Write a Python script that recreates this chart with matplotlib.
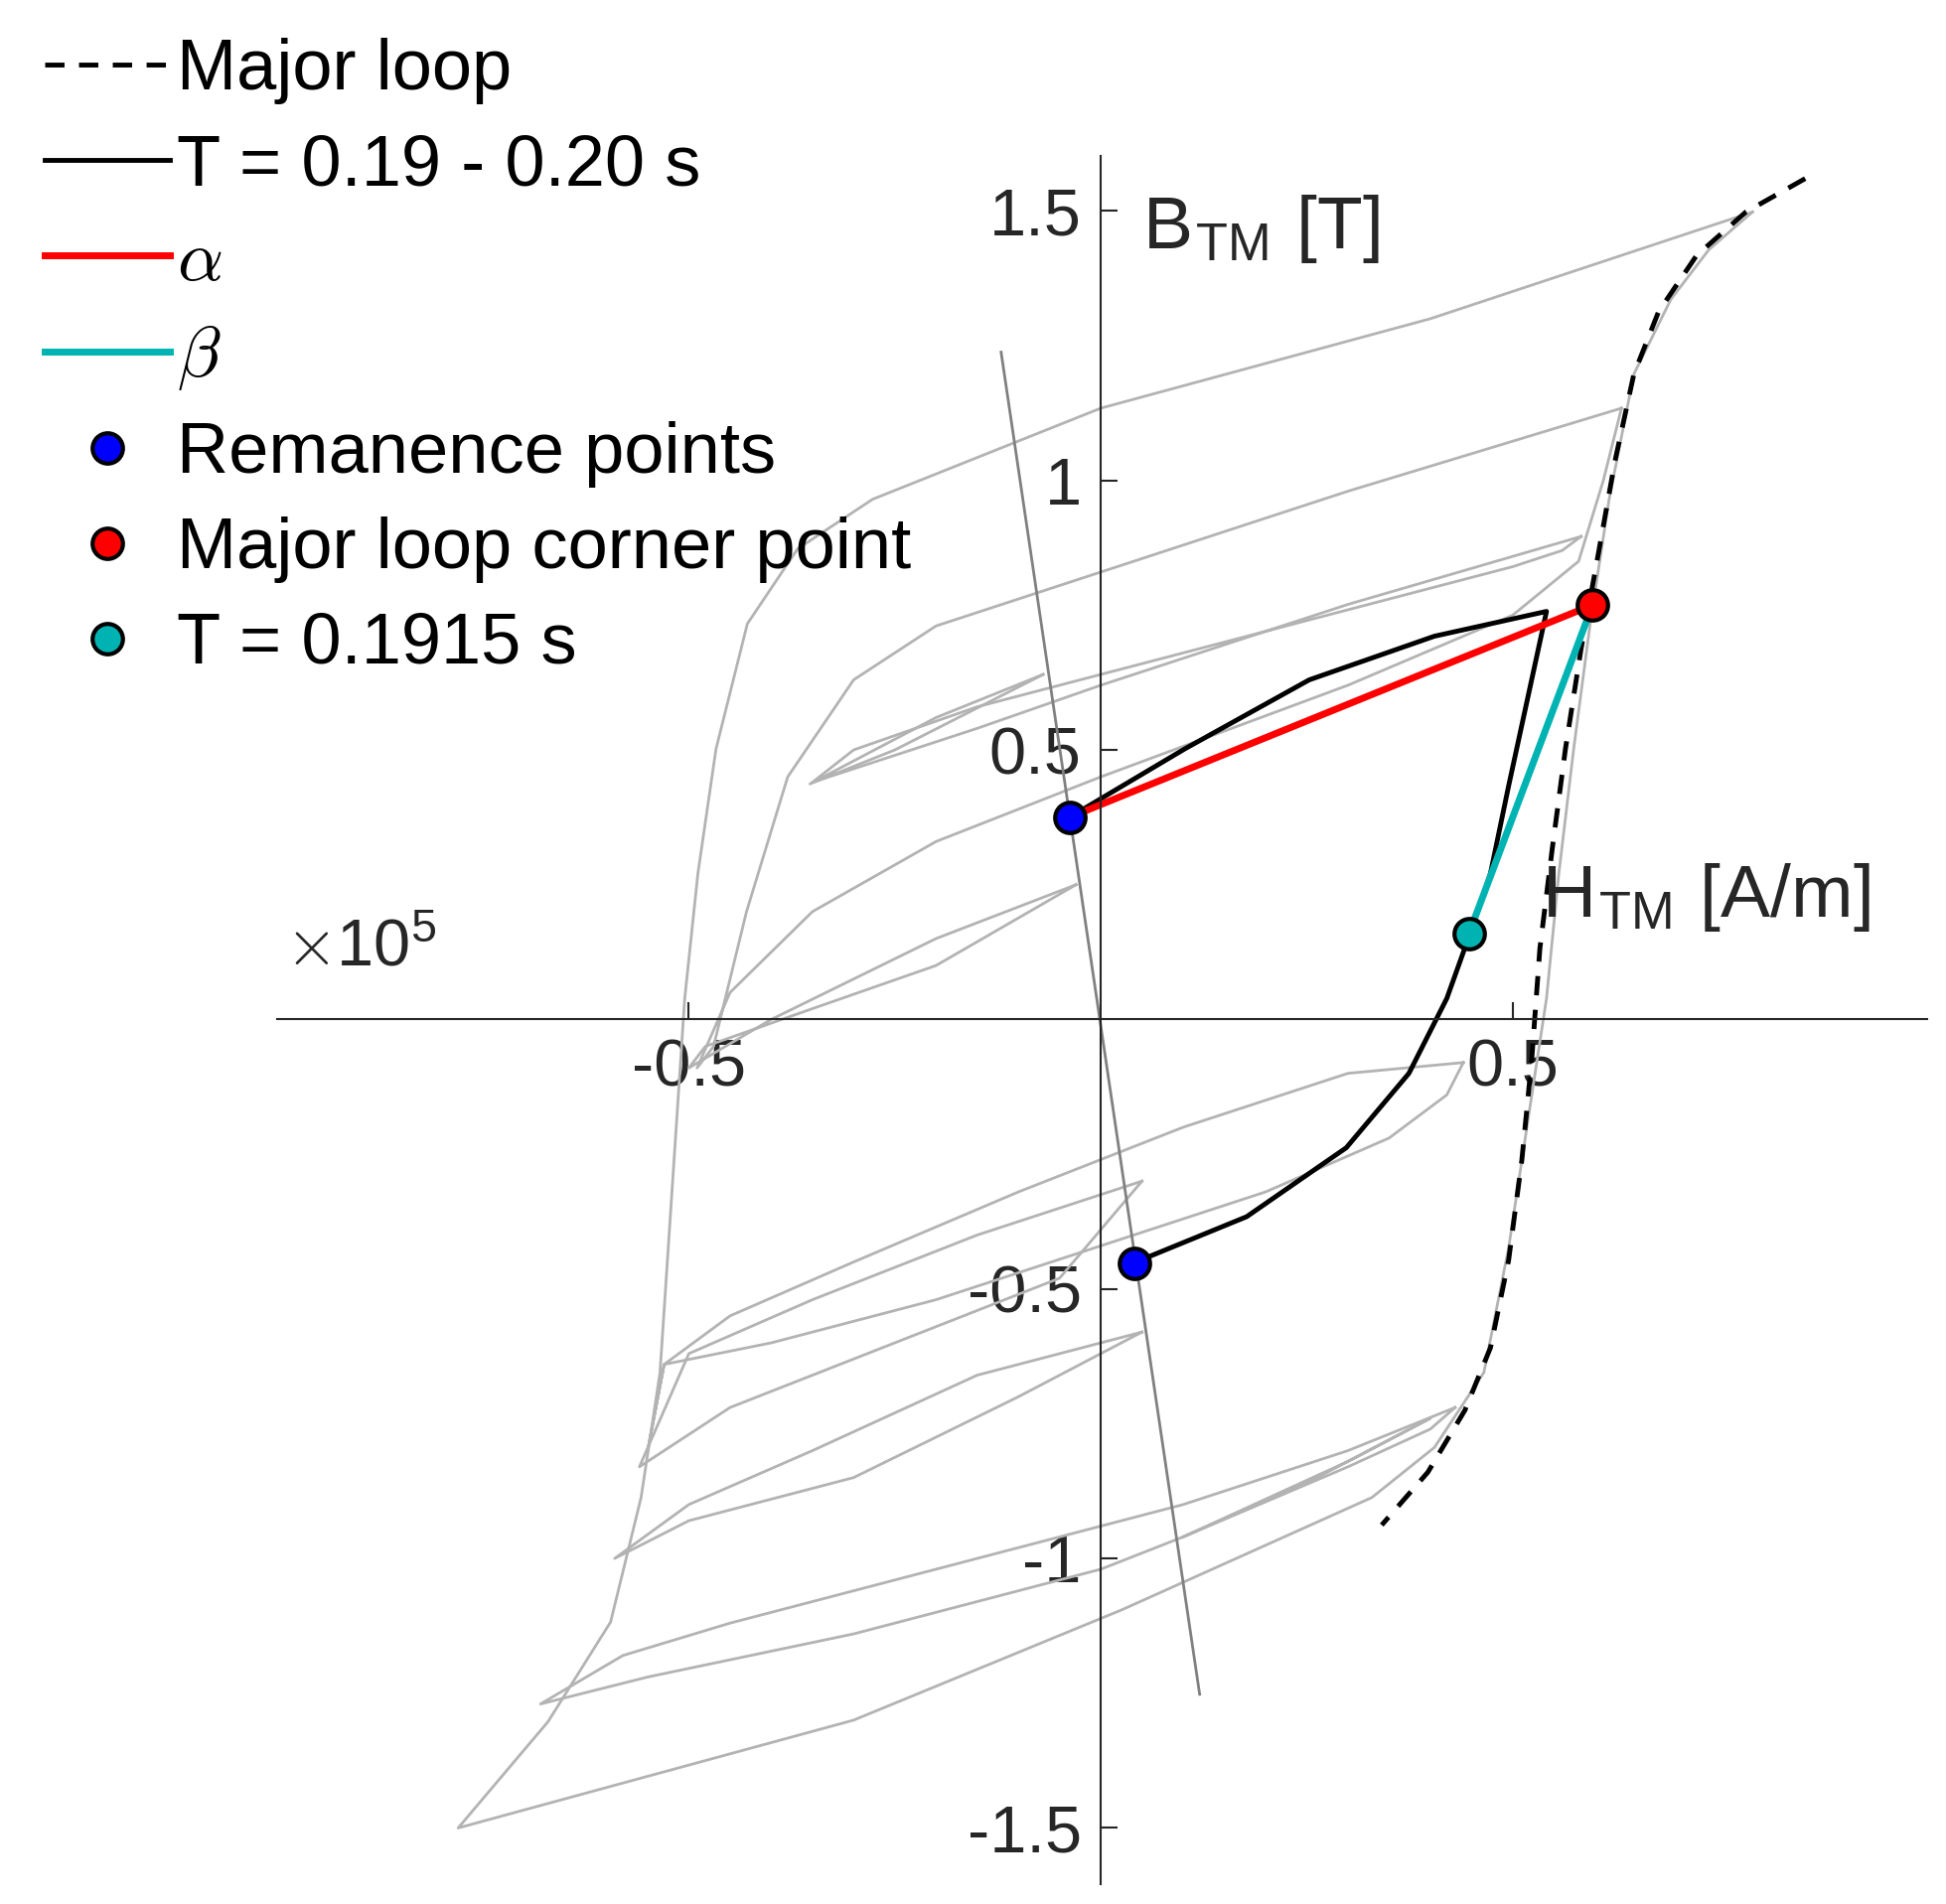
import matplotlib
matplotlib.use("Agg")
import matplotlib.pyplot as plt
from matplotlib.lines import Line2D
import numpy as np

plt.rcParams['font.family'] = ['Liberation Sans', 'DejaVu Sans']
plt.rcParams['mathtext.fontset'] = 'cm'

# Major loop (H in 1e5 A/m, B in T)
major_H = [.855,.783,.723,.677,.647,.624,.605,.583,.564,.548,.533,.523,.511,.495,.473,.442,.397,.341]
major_B = [1.56,1.498,1.417,1.313,1.197,1.035,.873,.688,.502,.317,.132,-.076,-.262,-.447,-.609,-.725,-.840,-.938]

# gray minor/major loops measured (H, B)
loops = [
 ([.791,.40,0,-.277,-.368,-.429,-.467,-.489,-.505,-.520,-.535,-.558,-.595,-.671,-.780,-.30,.026,.329,.405,.465,.495,.518,.541,.556,.574,.594,.617,.647,.692,.738,.791],
  [1.498,1.30,1.134,.965,.873,.734,.502,.271,.039,-.308,-.655,-.887,-1.118,-1.303,-1.5,-1.30,-1.095,-.887,-.794,-.655,-.424,-.192,.039,.271,.502,.734,.965,1.197,1.336,1.428,1.498]),
 ([.632,.30,0,-.20,-.30,-.38,-.43,-.47,-.49,-.45,-.35,-.20,0,.30,.50,.58,.61,.632],
  [1.134,.98,.83,.73,.63,.45,.20,-.05,-.09,.05,.20,.33,.45,.62,.75,.85,1.0,1.134]),
 ([.583,.30,0,-.15,-.35,-.30,-.15,0,.30,.50,.56,.583],
  [.896,.77,.62,.54,.44,.50,.58,.64,.76,.84,.87,.896]),
 ([-.07,-.20,-.353,-.25,-.07],[.64,.56,.437,.50,.64]),
 ([-.03,-.20,-.40,-.50,-.48,-.35,-.20,-.03],[.25,.15,.0,-.09,-.05,.02,.10,.25]),
 ([.44,.30,.10,-.10,-.30,-.45,-.53,-.55,-.53,-.40,-.20,0,.20,.35,.42,.44],
  [-.08,-.10,-.20,-.32,-.45,-.55,-.64,-.80,-.64,-.60,-.52,-.42,-.32,-.22,-.14,-.08]),
 ([.05,-.15,-.35,-.50,-.56,-.45,-.25,-.05,.05],[-.30,-.40,-.52,-.62,-.83,-.72,-.60,-.48,-.30]),
 ([.05,-.15,-.35,-.50,-.59,-.50,-.30,-.10,.05],[-.58,-.66,-.80,-.90,-1.0,-.93,-.85,-.70,-.58]),
 ([.43,.30,.10,-.20,-.45,-.58,-.68,-.55,-.30,0,.10,.30,.40,.43],
  [-.72,-.80,-.90,-1.02,-1.12,-1.18,-1.27,-1.22,-1.14,-1.02,-.96,-.83,-.76,-.72]),
 ([.10,.25,.40,.30,.10],[-.96,-.86,-.74,-.82,-.96]),
]

diag_H = [-.121, .12]
diag_B = [1.238, -1.252]

T_H = [-.038,.102,.253,.405,.541,.518,.495,.473,.45,.42,.374,.298,.177,.041]
T_B = [.375,.502,.630,.711,.757,.595,.433,.271,.167,.039,-.1,-.238,-.366,-.451]

rem_H = [-.038, .041]; rem_B = [.375, -.452]
corner_H = [.597]; corner_B = [.769]
t_H = [.447]; t_B = [.160]

fig = plt.figure(figsize=(19.59, 19.17), dpi=100)
ax = fig.add_axes([0.1423, 0.0105, 0.848, 0.9076])
ax.set_xlim(-1.0, 1.003); ax.set_ylim(-1.604, 1.602)

for h, b in loops:
    ax.plot(h, b, color='#b3b3b3', lw=2)
ax.plot(diag_H, diag_B, color='#808080', lw=2)
ax.plot(major_H, major_B, 'k--', lw=3.5, dashes=(4, 3))
ax.plot(T_H, T_B, 'k-', lw=3.5)
ax.plot([rem_H[0], corner_H[0]], [rem_B[0], corner_B[0]], color='red', lw=5)
ax.plot([t_H[0], corner_H[0]], [t_B[0], corner_B[0]], color='#00b3b3', lw=5)
ms = 22
ax.plot(rem_H, rem_B, 'o', ms=ms, mfc='blue', mec='k', mew=3)
ax.plot(corner_H, corner_B, 'o', ms=ms, mfc='red', mec='k', mew=3)
ax.plot(t_H, t_B, 'o', ms=ms, mfc='#00b3b3', mec='k', mew=3)

for s in ['top', 'right']:
    ax.spines[s].set_visible(False)
ax.spines['left'].set_position(('data', 0))
ax.spines['bottom'].set_position(('data', 0))
for s in ['left', 'bottom']:
    ax.spines[s].set_color('#262626'); ax.spines[s].set_linewidth(1.5)
ax.set_xticks([-0.5, 0.5]); ax.set_xticklabels(['-0.5', '0.5'])
ax.set_yticks([-1.5, -1, -0.5, 0.5, 1, 1.5])
ax.set_yticklabels(['-1.5', '-1', '-0.5', '0.5', '1', '1.5'])
ax.tick_params(direction='in', length=12, width=1.5, labelsize=48, colors='#262626', pad=14)
ax.set_facecolor('none')

ax.text(-0.99, 0.1, r'$\times\mathregular{10^5}$', fontsize=48, color='#262626')
ax.text(0.05, 1.43, r'B$_\mathregular{TM}$ [T]', fontsize=54, color='#262626')
ax.text(0.535, 0.19, r'H$_\mathregular{TM}$ [A/m]', fontsize=54, color='#262626')

handles = [
    Line2D([], [], color='k', ls='--', lw=3.5, dashes=(4, 3)),
    Line2D([], [], color='k', lw=3.5),
    Line2D([], [], color='red', lw=5),
    Line2D([], [], color='#00b3b3', lw=5),
    Line2D([], [], ls='none', marker='o', ms=ms, mfc='blue', mec='k', mew=3),
    Line2D([], [], ls='none', marker='o', ms=ms, mfc='red', mec='k', mew=3),
    Line2D([], [], ls='none', marker='o', ms=ms, mfc='#00b3b3', mec='k', mew=3),
]
labels = ['Major loop', 'T = 0.19 - 0.20 s', r'$\alpha$', r'$\beta$',
          'Remanence points', 'Major loop corner point', 'T = 0.1915 s']
fig.legend(handles, labels, loc='upper left', bbox_to_anchor=(0.008, 0.995),
           frameon=False, fontsize=52, handlelength=1.75, handletextpad=0.1,
           labelspacing=0.4, borderaxespad=0)
fig.savefig('out.png', dpi=100)
